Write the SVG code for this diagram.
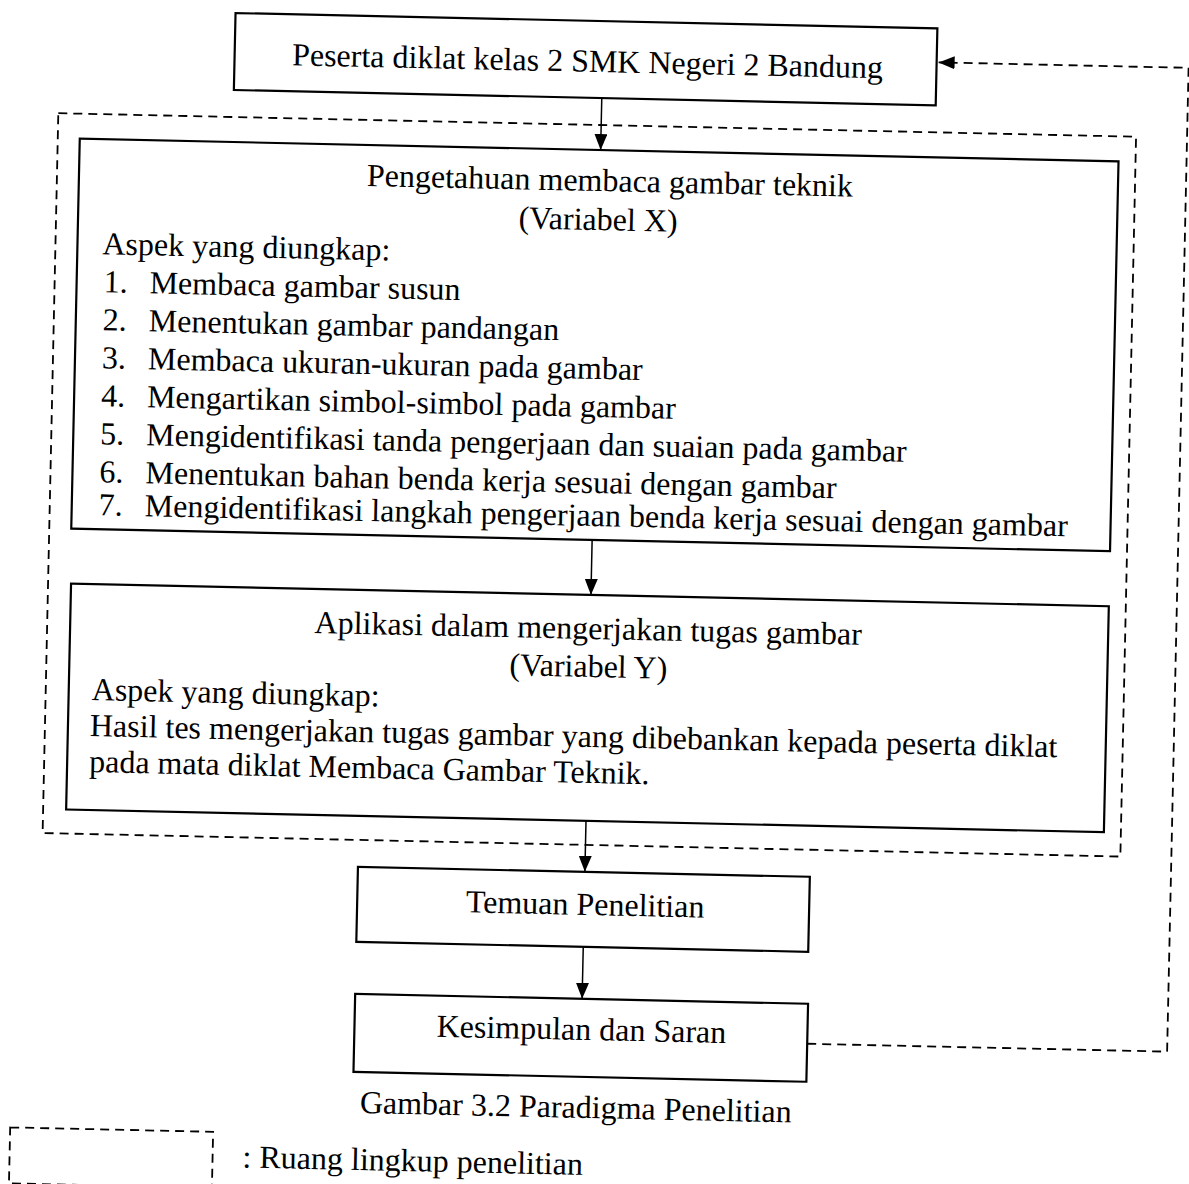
<svg xmlns="http://www.w3.org/2000/svg" width="1189" height="1184" viewBox="0 0 1189 1184">
<style>
.box{fill:none;stroke:#000;stroke-width:2.2}
.dash{fill:none;stroke:#000;stroke-width:1.8;stroke-dasharray:9 6}
.arr{fill:none;stroke:#000;stroke-width:1.5}
text{font-family:"Liberation Serif","Times New Roman",serif;font-size:32px;fill:#000}
.c{text-anchor:middle}
</style>
<defs>
<marker id="ah" markerUnits="userSpaceOnUse" markerWidth="17" markerHeight="13" refX="16" refY="6.5" orient="auto">
<path d="M0,0 L16,6.5 L0,13 z" fill="#000"/>
</marker>
</defs>
<rect width="1189" height="1184" fill="#fff"/>
<g transform="rotate(1.25 594 592)">
<g id="scope">
<rect class="dash" x="48" y="125" width="1078" height="720"/>
</g>
<g id="connectors">
<line class="arr" x1="591" y1="98" x2="591" y2="150" marker-end="url(#ah)"/>
<line class="arr" x1="591" y1="540" x2="591" y2="595" marker-end="url(#ah)"/>
<line class="arr" x1="591" y1="821" x2="591" y2="872" marker-end="url(#ah)"/>
<line class="arr" x1="591" y1="947" x2="591" y2="999" marker-end="url(#ah)"/>
<path class="dash" d="M817,1039 H1177 V55 H927" marker-end="url(#ah)"/>
</g>
<g id="node-peserta">
<rect class="box" x="223" y="21" width="702" height="77"/>
<text class="c" x="576" y="72">Peserta diklat kelas 2 SMK Negeri 2 Bandung</text>
</g>
<g id="node-variabel-x">
<rect class="box" x="70" y="150" width="1039" height="390"/>
<text class="c" x="601" y="191">Pengetahuan membaca gambar teknik</text>
<text class="c" x="590" y="230">(Variabel X)</text>
<text x="95" y="265">Aspek yang diungkap:</text>
<text x="97" y="303">1.</text><text x="143" y="303">Membaca gambar susun</text>
<text x="97" y="341">2.</text><text x="143" y="341">Menentukan gambar pandangan</text>
<text x="97" y="379">3.</text><text x="143" y="379">Membaca ukuran-ukuran pada gambar</text>
<text x="97" y="417">4.</text><text x="143" y="417">Mengartikan simbol-simbol pada gambar</text>
<text x="97" y="455">5.</text><text x="143" y="455">Mengidentifikasi tanda pengerjaan dan suaian pada gambar</text>
<text x="97" y="493">6.</text><text x="143" y="493">Menentukan bahan benda kerja sesuai dengan gambar</text>
<text x="97" y="526">7.</text><text x="143" y="526">Mengidentifikasi langkah pengerjaan benda kerja sesuai dengan gambar</text>
</g>
<g id="node-variabel-y">
<rect class="box" x="71" y="595" width="1038" height="226"/>
<text class="c" x="589" y="639">Aplikasi dalam mengerjakan tugas gambar</text>
<text class="c" x="590" y="677">(Variabel Y)</text>
<text x="94" y="711">Aspek yang diungkap:</text>
<text x="93" y="747">Hasil tes mengerjakan tugas gambar yang dibebankan kepada peserta diklat</text>
<text x="93" y="783">pada mata diklat Membaca Gambar Teknik.</text>
</g>
<g id="node-temuan">
<rect class="box" x="364" y="872" width="452" height="75"/>
<text class="c" x="592" y="915">Temuan Penelitian</text>
</g>
<g id="node-kesimpulan">
<rect class="box" x="364" y="999" width="453" height="78"/>
<text class="c" x="591" y="1040">Kesimpulan dan Saran</text>
</g>
<g id="caption">
<text class="c" x="587" y="1118">Gambar 3.2 Paradigma Penelitian</text>
</g>
<g id="legend">
<rect class="dash" x="22" y="1140" width="203" height="56"/>
<text x="255" y="1175">: Ruang lingkup penelitian</text>
</g>
</g>
</svg>
